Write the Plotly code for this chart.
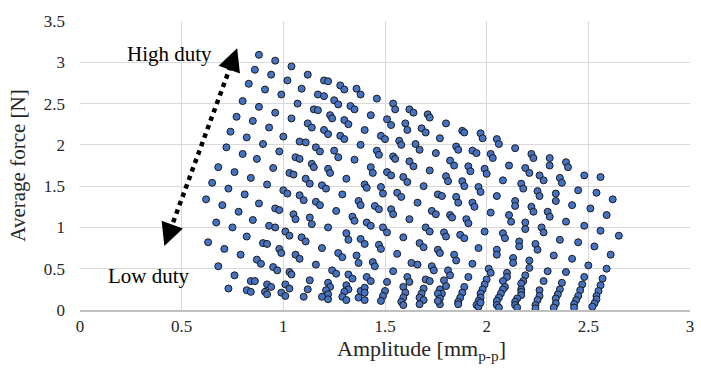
import plotly.graph_objects as go

# (amplitude [mm p-p], average force [N]), grouped by region
pts_top_left = [(0.88,3.09),(0.96,3.02),(0.86,2.91),(0.94,2.85),(0.83,2.74),(0.91,2.67),(0.99,2.61),
    (0.80,2.53),(0.88,2.46),(0.96,2.39),(0.77,2.34),(0.85,2.29)]
pts_top_mid = [(1.04,2.95),(1.02,2.78),(1.12,2.85),(1.09,2.68),(1.20,2.78),(1.22,2.77),(1.17,2.61),
    (1.20,2.59),(1.28,2.72),(1.30,2.67),(1.36,2.68),(1.38,2.61),(1.46,2.56),(1.07,2.50),(1.15,2.43),
    (1.17,2.42),(1.25,2.54),(1.27,2.49),(1.33,2.47),(1.35,2.43),(1.43,2.36),(1.54,2.50),(1.55,2.43),
    (1.62,2.43),(1.04,2.32),(1.23,2.36),(1.24,2.32),(1.30,2.30),(1.51,2.31),(1.64,2.39),(1.71,2.37),
    (1.72,2.33)]
pts_mid_left = [(0.74,2.16),(0.82,2.09),(0.93,2.21),(1.00,2.10),(0.72,1.97),(0.80,1.89),(0.90,2.01),
    (0.87,1.83),(0.98,1.92),(0.68,1.73),(0.76,1.67),(0.84,1.60),(0.95,1.72),(0.65,1.54),(0.73,1.47),
    (0.81,1.40),(0.92,1.52),(1.00,1.45),(0.62,1.34),(0.70,1.27),(0.78,1.19),(0.88,1.29),(0.96,1.23),
    (0.98,1.21)]
pts_mid_a = [(1.32,2.25),(1.53,2.24),(1.60,2.26),(1.61,2.18),(1.12,2.26),(1.14,2.21),(1.20,2.18),
    (1.22,2.13),(1.28,2.11),(1.30,2.07),(1.40,2.18),(1.48,2.11),(1.50,2.07),(1.57,2.05),(1.58,2.00),
    (1.08,2.04),(1.11,2.03),(1.16,1.97),(1.18,1.92),(1.25,1.93),(1.27,1.85),(1.38,2.00),(1.46,1.93),
    (1.47,1.88),(1.54,1.86),(1.55,1.83),(1.62,1.80),(1.06,1.85),(1.08,1.83),(1.14,1.77),(1.15,1.73),
    (1.22,1.71),(1.23,1.66),(1.35,1.82),(1.43,1.73),(1.44,1.66),(1.51,1.67),(1.53,1.63),(1.59,1.61),
    (1.61,1.55),(1.03,1.66),(1.05,1.64),(1.11,1.59),(1.13,1.53),(1.19,1.51),(1.21,1.47),(1.31,1.59),
    (1.40,1.52),(1.41,1.48),(1.48,1.49),(1.49,1.41),(1.56,1.42),(1.58,1.37),(1.02,1.41),(1.08,1.39),
    (1.10,1.33),(1.16,1.31),(1.18,1.27),(1.29,1.40),(1.37,1.32),(1.38,1.27),(1.45,1.26),(1.47,1.22),
    (1.53,1.22),(1.54,1.16),(1.05,1.16),(1.26,1.20)]
pts_mid_b = [(1.68,2.20),(1.70,2.15),(1.80,2.26),(1.88,2.17),(1.89,2.15),(1.97,2.14),(1.98,2.08),
    (1.77,2.08),(1.65,2.01),(1.67,1.94),(1.85,1.98),(1.86,1.94),(1.93,1.93),(1.95,1.90),(2.05,2.07),
    (2.06,2.01),(2.14,1.96),(2.22,1.89),(2.23,1.84),(1.75,1.90),(1.64,1.74),(1.82,1.81),(1.84,1.75),
    (1.91,1.74),(1.92,1.68),(2.02,1.89),(2.03,1.84),(1.99,1.71),(2.00,1.65),(2.11,1.75),(2.19,1.72),
    (2.21,1.66),(1.72,1.69),(1.80,1.62),(1.81,1.56),(1.88,1.56),(1.89,1.50),(1.96,1.49),(1.97,1.43),
    (2.08,1.57),(2.17,1.53),(2.18,1.47),(2.26,1.63),(2.25,1.44),(2.26,1.38),(1.69,1.50),(1.76,1.40),
    (1.78,1.38),(1.85,1.37),(1.86,1.30),(1.93,1.30),(1.94,1.25),(2.05,1.38),(2.14,1.32),(2.14,1.26),
    (2.22,1.25),(2.23,1.19),(1.66,1.30),(1.73,1.20),(1.75,1.16),(1.82,1.15),(2.02,1.18),(2.11,1.15)]
pts_mid_right = [(2.31,1.84),(2.31,1.75),(2.39,1.79),(2.40,1.73),(2.28,1.57),(2.36,1.60),(2.37,1.54),
    (2.48,1.63),(2.56,1.61),(2.34,1.41),(2.34,1.32),(2.45,1.45),(2.54,1.42),(2.62,1.34),(2.42,1.27),
    (2.51,1.23),(2.30,1.19),(2.59,1.15),(2.31,1.13)]
pts_low_left = [(0.67,1.06),(0.75,1.00),(0.85,1.09),(0.93,1.02),(0.96,1.00),(0.63,0.82),(0.71,0.74),
    (0.82,0.89),(0.90,0.81),(0.92,0.80),(0.98,0.74),(0.99,0.69),(0.79,0.67),(0.68,0.53),(0.87,0.61),
    (0.89,0.56),(0.95,0.52),(0.97,0.48),(0.76,0.42),(0.84,0.35),(0.86,0.35),(0.92,0.31),(0.94,0.28),
    (0.73,0.26),(0.82,0.24),(0.84,0.22),(0.91,0.22),(0.92,0.19)]
pts_low_mid = [(1.06,1.10),(1.13,1.12),(1.14,1.04),(1.34,1.13),(1.35,1.08),(1.62,1.10),(1.22,1.00),
    (1.41,1.06),(1.43,1.02),(1.49,1.00),(1.51,0.94),(1.01,0.95),(1.03,0.90),(1.09,0.88),(1.11,0.83),
    (1.31,0.93),(1.32,0.85),(1.38,0.86),(1.40,0.80),(1.47,0.79),(1.48,0.74),(1.59,0.88),(1.19,0.75),
    (1.06,0.67),(1.08,0.62),(1.27,0.69),(1.29,0.64),(1.36,0.66),(1.37,0.57),(1.44,0.58),(1.45,0.53),
    (1.56,0.68),(1.63,0.57),(1.16,0.55),(1.03,0.46),(1.04,0.43),(1.24,0.48),(1.26,0.44),(1.32,0.43),
    (1.34,0.38),(1.41,0.40),(1.43,0.35),(1.54,0.47),(1.51,0.34),(1.61,0.40),(1.62,0.34),(1.13,0.36),
    (1.01,0.31),(1.03,0.26),(1.12,0.25),(1.22,0.33),(1.23,0.28),(1.21,0.24),(1.22,0.19),(1.19,0.16),
    (1.22,0.13),(1.31,0.30),(1.32,0.25),(1.30,0.22),(1.29,0.16),(1.31,0.12),(1.38,0.23),(1.40,0.27),
    (1.40,0.21),(1.37,0.15),(1.40,0.12),(1.50,0.23),(1.49,0.17),(1.48,0.11),(1.10,0.16),(0.99,0.21),
    (1.01,0.17),(1.59,0.28),(1.60,0.21),(1.59,0.15),(1.58,0.10),(1.59,0.06)]
pts_low_b = [(1.83,1.12),(1.90,1.10),(1.91,1.05),(2.12,1.07),(2.19,1.06),(2.19,0.98),(1.70,1.00),
    (1.72,0.95),(1.79,0.94),(1.80,0.89),(1.87,0.91),(1.89,0.87),(1.99,0.95),(2.08,0.93),(2.09,0.87),
    (2.16,0.83),(2.16,0.77),(2.24,0.80),(2.25,0.73),(1.67,0.81),(1.69,0.76),(1.76,0.73),(1.77,0.69),
    (1.84,0.67),(1.85,0.60),(1.96,0.75),(2.05,0.73),(2.05,0.67),(2.13,0.63),(2.13,0.57),(2.21,0.60),
    (2.21,0.51),(1.66,0.55),(1.73,0.53),(1.74,0.48),(1.81,0.48),(1.82,0.42),(1.93,0.56),(2.01,0.50),
    (2.02,0.45),(2.10,0.45),(2.10,0.40),(2.19,0.42),(2.18,0.35),(1.70,0.37),(1.72,0.35),(1.79,0.36),
    (1.80,0.29),(1.91,0.40),(2.00,0.37),(1.99,0.31),(2.08,0.35),(2.09,0.28),(2.17,0.32),(2.17,0.25),
    (2.26,0.24),(1.69,0.26),(1.68,0.20),(1.67,0.15),(1.69,0.12),(1.67,0.07),(1.77,0.25),(1.78,0.20),
    (1.76,0.20),(1.77,0.14),(1.77,0.07),(1.76,0.11),(1.89,0.28),(1.88,0.21),(1.87,0.15),(1.86,0.10),
    (1.86,0.07),(1.98,0.25),(1.97,0.20),(1.97,0.15),(1.96,0.11),(1.95,0.06),(1.96,0.04),(1.97,0.09),
    (2.08,0.25),(2.07,0.20),(2.06,0.15),(2.05,0.11),(2.05,0.06),(2.06,0.03),(2.17,0.22),(2.17,0.18),
    (2.15,0.14),(2.14,0.10),(2.14,0.06),(2.15,0.03),(2.26,0.17),(2.25,0.12),(2.24,0.06),(2.24,0.02)]
pts_low_right = [(2.39,1.07),(2.48,1.02),(2.27,1.00),(2.28,0.94),(2.36,0.85),(2.45,0.82),(2.56,0.96),
    (2.65,0.90),(2.33,0.66),(2.42,0.62),(2.53,0.77),(2.61,0.67),(2.30,0.47),(2.39,0.46),(2.50,0.54),
    (2.59,0.50),(2.28,0.35),(2.37,0.33),(2.36,0.25),(2.35,0.19),(2.34,0.14),(2.34,0.08),(2.33,0.03),
    (2.48,0.40),(2.47,0.31),(2.46,0.24),(2.45,0.17),(2.44,0.12),(2.43,0.07),(2.43,0.03),(2.57,0.38),
    (2.56,0.30),(2.55,0.23),(2.54,0.17),(2.54,0.13),(2.53,0.08),(2.52,0.04)]

x_ticks = [0, 0.5, 1, 1.5, 2, 2.5, 3]
x_tick_labels = ["0", "0.5", "1", "1.5", "2", "2.5", "3"]
y_ticks = [0, 0.5, 1, 1.5, 2, 2.5, 3, 3.5]
y_tick_labels = ["0", "0.5", "1", "1.5", "2", "2.5", "3", "3.5"]

arrow_low = (0.415, 0.775)
arrow_high = (0.773, 3.17)

groups = [pts_top_left, pts_top_mid, pts_mid_left, pts_mid_a, pts_mid_b, pts_mid_right,
          pts_low_left, pts_low_mid, pts_low_b, pts_low_right]
amp = [p[0] for g in groups for p in g]
force = [p[1] for g in groups for p in g]

FONT = "Liberation Serif, Times New Roman, serif"
TXT = "#262626"

fig = go.Figure()
fig.add_trace(go.Scatter(
    x=amp, y=force, mode="markers",
    marker=dict(size=7, color="#4472C4", line=dict(color="#1a1a1a", width=1)),
    showlegend=False, hoverinfo="skip"))

# dotted double arrow
dx = arrow_high[0] - arrow_low[0]
dy = arrow_high[1] - arrow_low[1]
f = 0.035
fig.add_shape(type="line", xref="x", yref="y",
              x0=arrow_low[0] + dx * f, y0=arrow_low[1] + dy * f,
              x1=arrow_high[0] - dx * f, y1=arrow_high[1] - dy * f,
              line=dict(color="black", width=4.5, dash="dot"))
for tip, back in [(arrow_high, -1), (arrow_low, 1)]:
    fig.add_annotation(x=tip[0], y=tip[1], ax=tip[0] + back * dx * 0.04, ay=tip[1] + back * dy * 0.04,
                       xref="x", yref="y", axref="x", ayref="y", text="", showarrow=True,
                       arrowhead=2, arrowsize=1.3, arrowwidth=3.5, arrowcolor="black", standoff=0)

fig.add_annotation(x=0.44, y=3.10, xref="x", yref="y", text="High duty", showarrow=False,
                   font=dict(family=FONT, size=21, color="black"))
fig.add_annotation(x=0.34, y=0.41, xref="x", yref="y", text="Low duty", showarrow=False,
                   font=dict(family=FONT, size=21, color="black"))

# x axis title (placed as in the reference, right of centre)
fig.add_annotation(x=0.56, y=0, xref="paper", yref="paper", yshift=-40, yanchor="middle",
                   text="Amplitude [mm<sub>p-p</sub>]", showarrow=False,
                   font=dict(family=FONT, size=22, color=TXT))

fig.update_layout(
    width=701, height=376,
    margin=dict(l=80, r=7, t=21, b=66),
    paper_bgcolor="white", plot_bgcolor="white",
    font=dict(family=FONT, size=17, color=TXT),
    xaxis=dict(range=[0, 3], tickvals=x_ticks, ticktext=x_tick_labels, showgrid=True,
               gridcolor="#d9d9d9", gridwidth=1, zeroline=False, showline=True, linecolor="#bfbfbf",
               linewidth=1.5, ticks="", tickfont=dict(family=FONT, size=17, color=TXT)),
    yaxis=dict(range=[0, 3.5], tickvals=y_ticks, ticktext=y_tick_labels, showgrid=True,
               gridcolor="#d9d9d9", gridwidth=1, zeroline=False, showline=False, ticks="",
               ticklabelstandoff=14,
               tickfont=dict(family=FONT, size=17, color=TXT),
               title=dict(text="Average force [N]", font=dict(family=FONT, size=21, color=TXT),
                          standoff=12)),
)

fig.write_html("out.html")
